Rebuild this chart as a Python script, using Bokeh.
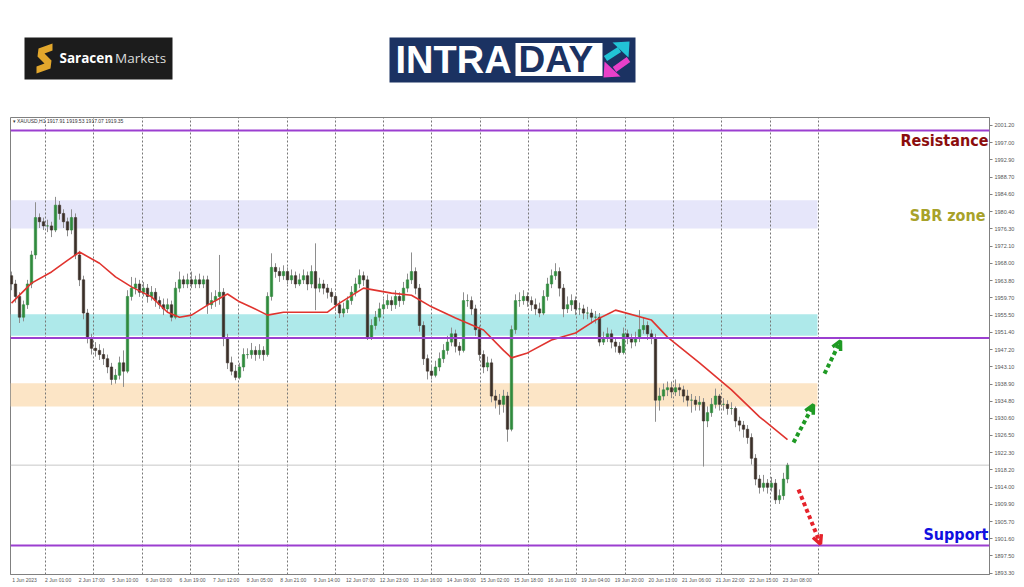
from bokeh.plotting import figure
from bokeh.models import (Range1d, FixedTicker, PrintfTickFormatter, Span, Label,
                          Arrow, OpenHead, ColumnDataSource)
from bokeh.layouts import column
from bokeh.embed import file_html
from bokeh.resources import INLINE
from bokeh.core.properties import value

# ---------------- data (XAUUSD, 2-hour candles) ----------------
first_open = 1965.0
closes = [
    1963, 1960, 1955, 1958, 1963, 1970, 1979, 1978, 1977, 1977,
    1976, 1982, 1980, 1978, 1976, 1979, 1970, 1964, 1956, 1950,
    1947.5, 1947, 1946, 1945, 1943, 1940, 1941, 1944, 1942, 1960,
    1962, 1963, 1961, 1962, 1960, 1961, 1959, 1958, 1957, 1958,
    1955, 1962, 1964, 1963, 1964, 1963, 1964, 1963, 1964, 1958,
    1959, 1960, 1961, 1950, 1944, 1942, 1940.5, 1943, 1946, 1946,
    1947, 1946, 1947, 1946, 1960, 1967, 1966, 1965, 1966, 1964,
    1965, 1963, 1964, 1965, 1963, 1966, 1962, 1963, 1962, 1961,
    1960, 1958, 1956, 1957, 1959, 1961, 1963, 1965, 1964, 1950,
    1953, 1955, 1957, 1958, 1959, 1958, 1960, 1959, 1962, 1964,
    1966, 1962, 1953, 1945, 1942, 1941, 1943, 1945, 1947, 1949,
    1951, 1948, 1947, 1959, 1959, 1957, 1952, 1946, 1943, 1944,
    1936, 1935, 1934, 1936, 1928, 1952, 1959, 1959, 1960, 1959,
    1958, 1957, 1956, 1960, 1963, 1965, 1966, 1962, 1957, 1958,
    1959, 1957, 1957, 1956, 1956, 1955, 1955, 1949, 1950, 1951,
    1949, 1948, 1946.5, 1951, 1950, 1949, 1950, 1952, 1953, 1951,
    1950, 1935, 1936, 1937.5, 1938, 1937, 1938, 1937.5, 1936, 1935,
    1935, 1934, 1934.5, 1930, 1932, 1934, 1936, 1934, 1934, 1933,
    1933, 1930, 1929, 1928, 1926, 1921, 1916, 1914, 1915, 1914,
    1915, 1911, 1912, 1916, 1919.35,
]
highs = [
    1966, 1964, 1961, 1959, 1964, 1971, 1982.7, 1980, 1979, 1978.5,
    1978, 1984, 1983, 1981, 1979, 1981, 1980, 1971, 1965, 1957,
    1951, 1949, 1948.5, 1947.5, 1946, 1944, 1942.5, 1945.5, 1947, 1961.5,
    1964.7, 1964.5, 1964, 1963.5, 1963, 1962.5, 1962, 1960, 1959.5, 1959.5,
    1959, 1963.5, 1966, 1965, 1965.5, 1966, 1965, 1965.5, 1965, 1965,
    1961, 1961.5, 1970, 1962, 1951, 1945.5, 1943.5, 1944, 1947.5, 1947.5,
    1948.8, 1948, 1948.5, 1948, 1961, 1970.4, 1968, 1967, 1967.5, 1967,
    1966.5, 1966, 1965.5, 1966.5, 1966, 1967.5, 1972.8, 1964.5, 1964, 1963,
    1962, 1961, 1959, 1958.5, 1960, 1962.5, 1964.5, 1966.5, 1966, 1965,
    1954.5, 1956.5, 1958.5, 1959.5, 1960.5, 1960, 1961.5, 1961, 1963.5, 1965.5,
    1970.6, 1967, 1963, 1954, 1946, 1943.5, 1944.5, 1946.5, 1948.5, 1950.5,
    1952.5, 1952, 1949, 1961, 1960.5, 1960, 1958, 1953, 1947, 1945.5,
    1945, 1937.5, 1936.5, 1937.5, 1937, 1953, 1960.5, 1961, 1961.5, 1961,
    1960, 1959.5, 1958.5, 1961.5, 1964.5, 1966.5, 1968, 1967, 1963, 1960,
    1960.5, 1960, 1958.5, 1958, 1957.5, 1957, 1956.5, 1956, 1951.5, 1952.5,
    1952, 1950, 1949, 1952.5, 1952, 1951, 1951.5, 1956.7, 1955, 1954,
    1952, 1951, 1938, 1939, 1939.5, 1939.5, 1940, 1939, 1938.5, 1937.5,
    1936.5, 1936, 1936, 1935.5, 1933.5, 1935.5, 1937.8, 1936.5, 1935.5, 1935,
    1934.5, 1933.5, 1931, 1930, 1929, 1927, 1922, 1917, 1917, 1916,
    1916.5, 1916, 1913.5, 1917.5, 1919.9,
]
lows = [
    1961.5, 1958.5, 1953.6, 1954, 1957, 1962, 1969, 1976.5, 1976, 1975.5,
    1974.3, 1975.5, 1978.5, 1976.5, 1974.5, 1975, 1969, 1962.5, 1954.5, 1948.7,
    1946, 1945.5, 1944.7, 1943.5, 1941.5, 1938.7, 1939, 1940, 1938.2, 1941.5,
    1959, 1960.5, 1959.9, 1960, 1958.5, 1959, 1957.5, 1957, 1955.5, 1956,
    1954, 1954.5, 1961, 1962, 1962, 1962, 1962, 1962, 1962, 1955.8,
    1957, 1957.5, 1958, 1948, 1942.5, 1941, 1939.8, 1940, 1942, 1945,
    1945, 1944.5, 1945, 1944.5, 1945.5, 1959, 1964.5, 1963.5, 1964, 1963,
    1963, 1962, 1962.5, 1963, 1961.5, 1962, 1956.7, 1961, 1960.5, 1959.5,
    1958.5, 1956.5, 1954.8, 1955, 1956, 1958, 1960, 1962, 1962.5, 1949.5,
    1949.5, 1952, 1954, 1956, 1957, 1956.5, 1957, 1957.5, 1958, 1961,
    1963, 1960.5, 1951.5, 1943.5, 1940, 1940, 1940.5, 1942, 1944, 1946,
    1948, 1946.5, 1945.8, 1946.5, 1957.5, 1955.5, 1950.5, 1944.5, 1941.5, 1942,
    1934.5, 1933, 1931.5, 1932, 1925, 1927.5, 1951, 1957.5, 1958, 1957.5,
    1956.5, 1955.5, 1955, 1955.5, 1959, 1962, 1964, 1960, 1955, 1956,
    1956.5, 1955.5, 1955.5, 1954.5, 1954.5, 1953.5, 1953.5, 1948, 1948.3, 1949,
    1947.5, 1946.5, 1946, 1946, 1948.5, 1947.5, 1948, 1949, 1951, 1949.5,
    1948.5, 1929.8, 1932.5, 1935, 1936, 1935.5, 1936, 1936, 1934.5, 1933.5,
    1932, 1932.5, 1932.5, 1919, 1928.5, 1931, 1933, 1932.5, 1932.5, 1931.5,
    1931.5, 1928.5, 1927.5, 1926, 1924.5, 1919.5, 1914.5, 1912.5, 1913, 1912.5,
    1913, 1910, 1910, 1911, 1915,
]
# moving average read at a few bars
ma_bar = [0, 5, 10, 14, 17, 22, 26, 30, 35, 39, 42, 45, 49, 54, 57, 60, 64, 68, 79, 82,
          88, 95, 100, 105, 111, 118, 123, 125, 129, 135, 141, 146, 150, 151, 160, 164,
          172, 180, 187, 194]
ma_val = [1958.4, 1963.2, 1965.9, 1968.7, 1970.7, 1968.0, 1964.7, 1962.3, 1959.9, 1956.2,
          1955.0, 1955.5, 1957.9, 1960.6, 1958.7, 1957.4, 1955.5, 1956.2, 1956.2, 1958.4,
          1962.0, 1960.8, 1960.3, 1957.5, 1954.8, 1951.9, 1947.0, 1945.2, 1946.4, 1949.5,
          1951.2, 1954.3, 1956.2, 1956.7, 1954.3, 1950.2, 1944.0, 1937.5, 1931.0, 1925.5]

x_labels = ["1 Jun 2023", "2 Jun 01:00", "2 Jun 17:00", "5 Jun 10:00", "6 Jun 03:00",
            "6 Jun 19:00", "7 Jun 12:00", "8 Jun 05:00", "8 Jun 21:00", "9 Jun 14:00",
            "12 Jun 07:00", "12 Jun 23:00", "13 Jun 16:00", "14 Jun 09:00", "15 Jun 02:00",
            "15 Jun 18:00", "16 Jun 11:00", "19 Jun 04:00", "19 Jun 20:00", "20 Jun 13:00",
            "21 Jun 06:00", "21 Jun 22:00", "22 Jun 15:00", "23 Jun 08:00"]
y_ticks = [2001.2, 1997.0, 1992.9, 1988.7, 1984.6, 1980.4, 1976.3, 1972.1, 1968.0, 1963.8,
           1959.7, 1955.5, 1951.4, 1947.2, 1943.1, 1938.9, 1934.8, 1930.6, 1926.5, 1922.3,
           1918.2, 1914.0, 1909.9, 1905.7, 1901.6, 1897.5, 1893.3]

levels = [2000.0, 1950.0, 1900.0]
last_price = 1919.35
zone_top = [1983.2, 1955.7, 1939.1]
zone_bottom = [1976.4, 1950.55, 1933.5]
zone_colors = ["#e6e6fa", "#aee9ea", "#fce5c6"]
zone_end_bar = 201.5

arrow_x0 = [195.5, 203.25, 196.75]
arrow_y0 = [1924.8, 1941.4, 1913.5]
arrow_x1 = [200.5, 207.25, 202.25]
arrow_y1 = [1933.9, 1949.3, 1900.3]
arrow_colors = ["#1f9a24", "#1f9a24", "#e5232b"]

# ---------------- header (logos) ----------------
# the column aligns this frame with the chart frame (page x 10..989)
h = figure(width=1024, height=115, x_range=Range1d(10, 989), y_range=Range1d(115, 0),
           x_axis_type=None, y_axis_type=None, output_backend="svg",
           toolbar_location=None, min_border=0)
h.outline_line_color = None
h.background_fill_color = "white"
h.border_fill_color = "white"
h.xgrid.visible = False
h.ygrid.visible = False

# Saracen Markets logo
h.quad(left=[24], right=[172], top=[37], bottom=[79], fill_color="#1c1c1c", line_color=None)
h.patch([52, 52, 44, 51, 50, 36, 36, 44, 37, 38], [43, 50, 53, 60, 68, 73, 66, 63, 56, 48],
        fill_color="#e2a72c", line_color=None)
h.text(x=[59], y=[57], text=["Saracen"], text_font=value("Open Sans"), text_font_style="bold",
       text_font_size="13.5px", text_color="white", text_baseline="middle")
h.text(x=[114.5], y=[57], text=["Markets"], text_font=value("Open Sans"),
       text_font_size="13.5px", text_color="#dcdcdc", text_baseline="middle")

# INTRADAY logo
h.quad(left=[389], right=[635], top=[37], bottom=[82], fill_color="#1b3262", line_color=None)
h.quad(left=[515], right=[602], top=[42.5], bottom=[75.5], fill_color="white", line_color=None)
h.text(x=[395], y=[59.2], text=["INTRA"], text_font=value("Liberation Sans"), text_font_style="bold",
       text_font_size="38px", text_color="white", text_baseline="middle")
h.text(x=[518], y=[59.2], text=["DAY"], text_font=value("Liberation Sans"), text_font_style="bold",
       text_font_size="37px", text_color="#1b3262", text_baseline="middle")
h.segment(x0=[605], y0=[58], x1=[619], y1=[49], line_color="#22c3d6", line_width=6)
h.patch([629, 612, 628], [41, 42, 57], fill_color="#22c3d6", line_color=None)
h.segment(x0=[628], y0=[59], x1=[614], y1=[69], line_color="#e940c9", line_width=6)
h.patch([603, 604, 620], [77, 61, 76], fill_color="#e940c9", line_color=None)

# ---------------- main chart ----------------
p = figure(width=1024, height=470, x_range=Range1d(-0.25, 244.5), y_range=Range1d(1893.0, 2003.12),
           y_axis_location="right", output_backend="svg", toolbar_location=None,
           min_border_left=10, min_border_right=35, min_border_top=2, min_border_bottom=10)
p.background_fill_color = "white"
p.border_fill_color = "white"
p.outline_line_color = "#808080"
p.outline_line_width = 1

# zones
p.quad(left=[-0.25] * 3, right=[zone_end_bar] * 3, top=zone_top, bottom=zone_bottom,
       fill_color=zone_colors, line_color=None, level="image")

# last price line
p.add_layout(Span(location=last_price, dimension="width", line_color="#c8c8c8",
                  line_width=1, level="underlay"))

# candles
opens = [first_open] + closes[:-1]
bars = list(range(len(closes)))
tops = [max(o, c) for o, c in zip(opens, closes)]
bots = [min(o, c) for o, c in zip(opens, closes)]
cols = ["#2f8a3c" if c >= o else "#3a2f28" for o, c in zip(opens, closes)]
src = ColumnDataSource(dict(x=bars, h=highs, l=lows, top=tops, bottom=bots, color=cols))
p.segment(x0="x", y0="l", x1="x", y1="h", line_color="#8e8e8e", line_width=1, source=src)
p.vbar(x="x", width=0.6, top="top", bottom="bottom", fill_color="color", line_color="color",
       line_width=0.6, source=src)

# moving average
p.line(ma_bar, ma_val, line_color="#e0342f", line_width=1.6)

# horizontal levels
for lvl in levels:
    p.add_layout(Span(location=lvl, dimension="width", line_color="#9b3fd0", line_width=2))

# arrows
for x0, y0, x1, y1, c in zip(arrow_x0, arrow_y0, arrow_x1, arrow_y1, arrow_colors):
    p.add_layout(Arrow(end=OpenHead(size=9, line_width=3.5, line_color=c),
                       x_start=x0, y_start=y0, x_end=x1, y_end=y1,
                       line_color=c, line_width=4, line_dash="4 3"))

# axes
p.yaxis.ticker = FixedTicker(ticks=y_ticks)
p.yaxis.formatter = PrintfTickFormatter(format="%.2f")
p.yaxis.axis_line_color = "#808080"
p.yaxis.major_tick_line_color = "#808080"
p.yaxis.major_tick_out = 3
p.yaxis.major_tick_in = 0
p.yaxis.minor_tick_line_color = None
p.yaxis.major_label_text_font = "Liberation Sans"
p.yaxis.major_label_text_font_size = "5.5px"
p.yaxis.major_label_text_color = "#555555"
p.yaxis.major_label_standoff = 2

xt = [round(3.25 + 8.4 * k, 2) for k in range(len(x_labels))]
p.xaxis.ticker = FixedTicker(ticks=xt)
p.xaxis.major_label_overrides = {t: s for t, s in zip(xt, x_labels)}
p.xaxis.axis_line_color = "#808080"
p.xaxis.major_tick_line_color = None
p.xaxis.major_tick_out = 0
p.xaxis.major_tick_in = 0
p.xaxis.minor_tick_line_color = None
p.xaxis.major_label_text_font = "Liberation Sans"
p.xaxis.major_label_text_font_size = "5px"
p.xaxis.major_label_text_color = "#555555"
p.xaxis.major_label_standoff = 2

p.ygrid.visible = False
p.xgrid.ticker = FixedTicker(ticks=[8.5 + 12.075 * j for j in range(17)])
p.xgrid.grid_line_color = "#777777"
p.xgrid.grid_line_dash = "2 2"
p.xgrid.grid_line_width = 1

# price tags on the axis
for lvl in levels:
    p.add_layout(Label(x=244.75, y=lvl, text="%.2f" % lvl, text_font="Liberation Sans",
                       text_font_size="5.5px", text_color="white", text_baseline="middle",
                       background_fill_color="#9b3fd0", padding=1))
p.add_layout(Label(x=244.75, y=last_price, text="%.2f" % last_price, text_font="Liberation Sans",
                   text_font_size="5.5px", text_color="white", text_baseline="middle",
                   background_fill_color="#111111", padding=1))

# chart info text
p.add_layout(Label(x=0.25, y=2002.2, text="\u25be XAUUSD,H1  1917.91 1919.53 1917.07 1919.35",
                   text_font="Liberation Sans", text_font_size="5px", text_color="#333333",
                   text_baseline="middle"))

# zone names
for txt, yv, xv, col in [("Resistance", 1997.6, 244.25, "#8b0d0d"),
                         ("SBR zone", 1979.6, 243.5, "#a8a22a"),
                         ("Support", 1902.6, 244.25, "#1010e0")]:
    p.add_layout(Label(x=xv, y=yv, text=txt, text_font="DejaVu Sans Condensed",
                       text_font_style="bold", text_font_size="16px", text_color=col,
                       text_align="right", text_baseline="middle"))

layout = column(h, p)
open("out.html", "w").write(file_html(layout, INLINE))
